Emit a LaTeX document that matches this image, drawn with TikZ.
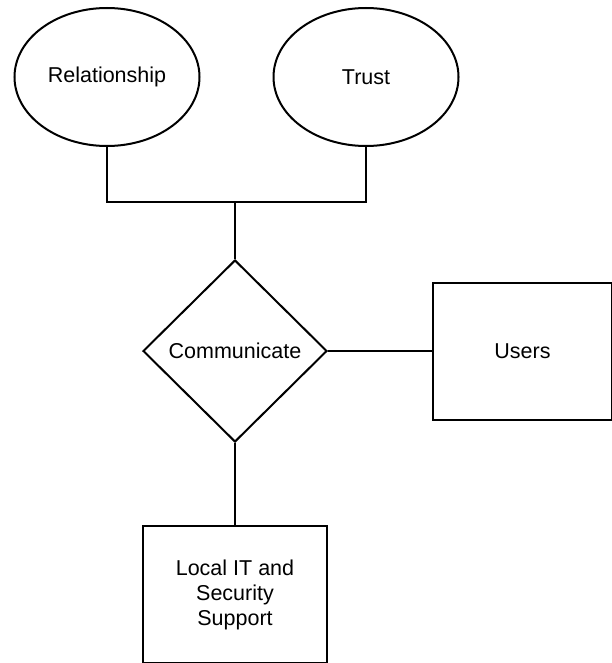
\documentclass[tikz,border=0pt]{standalone}
\usepackage{fontspec}
\setmainfont{Liberation Sans}
\usetikzlibrary{shapes.geometric,positioning}

\begin{document}
\begin{tikzpicture}[x=1pt,y=1pt]
		\tikzstyle{attr}=[ellipse, draw=black, line width=2pt, minimum width=185pt, minimum height=138pt, inner sep=0pt]
		\tikzstyle{rel}=[diamond, draw=black, line width=2pt, minimum width=184pt, minimum height=182pt, inner sep=0pt]
		\tikzstyle{entity}=[rectangle, draw=black, line width=2pt, minimum width=181pt, minimum height=137pt, align=center]
		\tikzstyle{connect}=[line width=1.5pt]
		\useasboundingbox (0,0) rectangle (612,-663);
		\fontsize{21.5}{25}\selectfont
		
		\node[attr] (relationship) at (107,-77) {Relationship};
		\node[attr] (trust) [right=72pt of relationship] {Trust};
		
		\node[rel] (communicate) at (235,-351) {Communicate};
		\node[entity, minimum width=179pt] (users) [right=104pt of communicate] {Users};
		\node[entity, minimum width=184pt] (support) [below=82pt of communicate] {Local IT and\\Security\\Support};
		
		\coordinate (join) at (235,-202);
		
		\draw[connect] (relationship.south) |- (join) -| (trust.south);
		\draw[connect] (join) -- (communicate.north);
		\draw[connect] (communicate.east) -- (users.west);
		\draw[connect] (communicate.south) -- (support.north);
		
	\end{tikzpicture}
\end{document}
